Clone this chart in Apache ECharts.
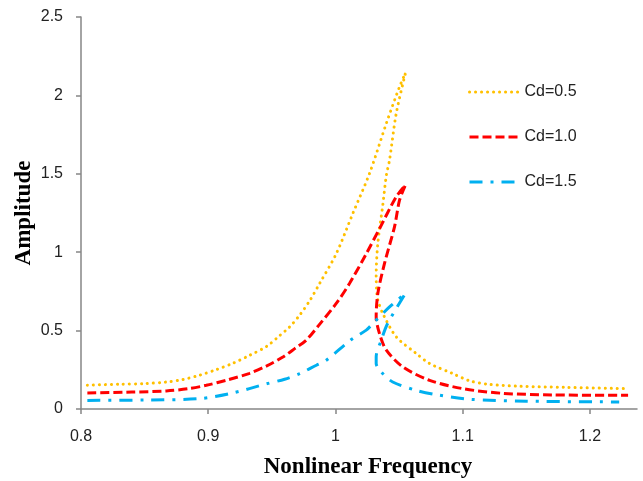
<!DOCTYPE html>
<html lang="en">
<head>
    <meta charset="utf-8">
    <title>Amplitude vs Nonlinear Frequency</title>
    <script src="https://cdn.jsdelivr.net/npm/echarts@6/dist/echarts.min.js"></script>
    <style type="text/css">
        html, body {
            margin: 0;
            padding: 0;
            background: #ffffff;
        }

        #main {
            width: 643px;
            height: 481px;
        }
    </style>
</head>
<body>
<div id="main"></div>
<script type="text/javascript">
    // 数据：沿曲线路径顺序（含回折的不稳定分支）
    var cd05Freq = [0.805, 0.83, 0.85, 0.867, 0.88, 0.893, 0.906, 0.919, 0.932, 0.946, 0.955, 0.964, 0.972, 0.980, 0.9875,
        1.0006, 1.0137, 1.0268, 1.040, 1.0504, 1.055,
        1.0478, 1.0425, 1.040, 1.0372, 1.0333, 1.032, 1.0325, 1.0333, 1.0372, 1.0478, 1.0635, 1.074, 1.0922, 1.1053,
        1.12, 1.1446, 1.18, 1.227];
    var cd05Amp = [0.152, 0.158, 0.162, 0.172, 0.188, 0.215, 0.25, 0.29, 0.34, 0.40, 0.46, 0.524, 0.60, 0.694, 0.80,
        0.99, 1.248, 1.503, 1.822, 2.056, 2.142,
        1.886, 1.588, 1.49, 1.3, 1.056, 0.843, 0.74, 0.694, 0.609, 0.46, 0.354, 0.29, 0.226, 0.18,
        0.158, 0.145, 0.138, 0.13];

    var cd10Freq = [0.805, 0.84, 0.867, 0.885, 0.8985, 0.915, 0.932, 0.946, 0.9587, 0.968, 0.977, 0.9875, 1.0006, 1.011,
        1.0242, 1.0346, 1.0478, 1.055,
        1.0504, 1.0464, 1.0386, 1.0333, 1.032, 1.0346, 1.04, 1.053, 1.074, 1.1, 1.1315, 1.17, 1.23];
    var cd10Amp = [0.102, 0.108, 0.115, 0.13, 0.151, 0.185, 0.226, 0.275, 0.332, 0.385, 0.439, 0.54, 0.673, 0.80,
        0.99, 1.15, 1.354, 1.428,
        1.333, 1.162, 0.93, 0.737, 0.587, 0.481, 0.375, 0.268, 0.183, 0.13, 0.1, 0.09, 0.087];

    var cd15Freq = [0.805, 0.85, 0.893, 0.919, 0.9456, 0.96, 0.9718, 0.985, 0.9928, 1.012, 1.0242, 1.0294, 1.0425, 1.055,
        1.041, 1.036, 1.032, 1.032, 1.036, 1.045, 1.0635, 1.08, 1.1053, 1.15, 1.223];
    var cd15Amp = [0.055, 0.057, 0.066, 0.102, 0.16, 0.19, 0.225, 0.279, 0.311, 0.44, 0.503, 0.545, 0.651, 0.737,
        0.545, 0.439, 0.332, 0.29, 0.236, 0.172, 0.119, 0.09, 0.062, 0.05, 0.045];

    var xTicks = [0.8, 0.9, 1, 1.1, 1.2];
    var seriesNames = ['Cd=0.5', 'Cd=1.0', 'Cd=1.5'];

    function pairs(xs, ys) {
        var out = [];
        for (var i = 0; i < xs.length; i++) {
            out.push([xs[i], ys[i]]);
        }
        return out;
    }

    var myChart = echarts.init(document.getElementById('main'), null, {renderer: 'canvas'});

    var option = {
        backgroundColor: '#ffffff',
        animation: false,
        grid: {
            left: 81,
            right: 6,
            top: 17,
            bottom: 72,
            outerBoundsMode: 'none'
        },
        legend: {
            orient: 'vertical',
            left: 468,
            top: 84,
            padding: 0,
            itemWidth: 50,
            itemHeight: 16,
            itemGap: 29,
            itemStyle: {opacity: 0},
            lineStyle: {width: 3},
            textStyle: {
                fontFamily: 'Liberation Sans',
                fontSize: 16,
                color: '#222'
            },
            data: seriesNames
        },
        xAxis: {
            type: 'value',
            min: 0.8,
            max: 1.237,
            interval: 0.1,
            name: 'Nonlinear Frequency',
            nameLocation: 'middle',
            nameGap: 47,
            nameMoveOverlap: false,
            nameTextStyle: {
                fontFamily: 'Liberation Serif',
                fontWeight: 'bold',
                fontSize: 23,
                color: '#000',
                padding: [0, 0, 0, 18]
            },
            axisLine: {lineStyle: {color: '#868686', width: 1.5}},
            axisTick: {show: true, length: 5, customValues: xTicks, lineStyle: {color: '#868686', width: 1.5}},
            axisLabel: {
                customValues: xTicks,
                margin: 20,
                fontFamily: 'Liberation Sans',
                fontSize: 16,
                color: '#222'
            },
            splitLine: {show: false}
        },
        yAxis: {
            type: 'value',
            min: 0,
            max: 2.5,
            interval: 0.5,
            name: 'Amplitude',
            nameLocation: 'middle',
            nameGap: 45,
            nameMoveOverlap: false,
            nameTextStyle: {
                fontFamily: 'Liberation Serif',
                fontWeight: 'bold',
                fontSize: 23,
                color: '#000'
            },
            axisLine: {show: true, lineStyle: {color: '#868686', width: 1.5}},
            axisTick: {show: true, length: 5, lineStyle: {color: '#868686', width: 1.5}},
            axisLabel: {
                margin: 18,
                fontFamily: 'Liberation Sans',
                fontSize: 16,
                color: '#222'
            },
            splitLine: {show: false}
        },
        series: [
            {
                name: seriesNames[0],
                type: 'line',
                symbol: 'none',
                smooth: 0.3,
                data: pairs(cd05Freq, cd05Amp),
                lineStyle: {color: '#FFC000', width: 3, type: [0.1, 5.9], cap: 'round'},
                itemStyle: {color: '#FFC000', opacity: 0}
            },
            {
                name: seriesNames[1],
                type: 'line',
                symbol: 'none',
                smooth: 0.3,
                data: pairs(cd10Freq, cd10Amp),
                lineStyle: {color: '#FF0000', width: 3, type: [9, 4]},
                itemStyle: {color: '#FF0000', opacity: 0}
            },
            {
                name: seriesNames[2],
                type: 'line',
                symbol: 'none',
                smooth: 0.3,
                data: pairs(cd15Freq, cd15Amp),
                lineStyle: {color: '#00B0F0', width: 3, type: [13, 8, 3, 8]},
                itemStyle: {color: '#00B0F0', opacity: 0}
            }
        ]
    };

    myChart.setOption(option);
</script>
</body>
</html>
